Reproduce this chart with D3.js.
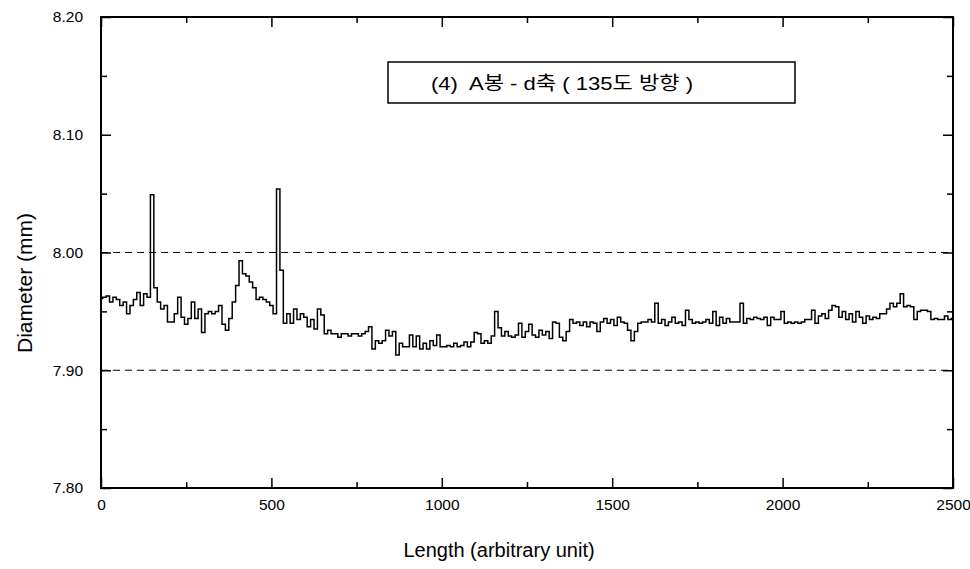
<!DOCTYPE html>
<html>
<head>
<meta charset="utf-8">
<script src="https://cdn.jsdelivr.net/npm/d3@7"></script>
<style>
body { margin: 0; background: #fff; }
text { font-family: "Liberation Sans", Arial, "Noto Sans CJK KR", sans-serif; fill: #000; }
</style>
</head>
<body>
<script>
var width = 970, height = 569

// length step between readings
var step = 10

// diameter (mm) every 10 units, 0..2500
var diameter = [
	7.961, 7.962, 7.963, 7.958, 7.962, 7.960, 7.955, 7.958, 7.948, 7.955,
	7.960, 7.966, 7.955, 7.965, 7.962, 8.049, 7.970, 7.958, 7.952, 7.955,
	7.941, 7.941, 7.948, 7.962, 7.945, 7.939, 7.944, 7.958, 7.944, 7.952,
	7.932, 7.948, 7.950, 7.948, 7.950, 7.955, 7.939, 7.934, 7.944, 7.958,
	7.972, 7.993, 7.982, 7.980, 7.975, 7.970, 7.960, 7.962, 7.960, 7.958,
	7.955, 7.948, 8.054, 7.985, 7.940, 7.948, 7.940, 7.952, 7.943, 7.948,
	7.945, 7.937, 7.943, 7.935, 7.952, 7.947, 7.931, 7.934, 7.931, 7.931,
	7.928, 7.931, 7.931, 7.929, 7.931, 7.931, 7.929, 7.931, 7.933, 7.937,
	7.918, 7.925, 7.923, 7.925, 7.934, 7.929, 7.933, 7.913, 7.923, 7.920,
	7.920, 7.930, 7.920, 7.929, 7.918, 7.923, 7.918, 7.925, 7.921, 7.930,
	7.920, 7.920, 7.921, 7.920, 7.923, 7.920, 7.921, 7.924, 7.920, 7.924,
	7.932, 7.931, 7.923, 7.925, 7.923, 7.929, 7.950, 7.936, 7.929, 7.933,
	7.929, 7.928, 7.930, 7.940, 7.928, 7.933, 7.939, 7.930, 7.928, 7.934,
	7.930, 7.933, 7.927, 7.941, 7.940, 7.928, 7.925, 7.933, 7.943, 7.940,
	7.941, 7.938, 7.941, 7.937, 7.941, 7.940, 7.933, 7.941, 7.944, 7.940,
	7.943, 7.938, 7.945, 7.941, 7.940, 7.934, 7.925, 7.933, 7.940, 7.941,
	7.941, 7.943, 7.941, 7.957, 7.940, 7.943, 7.938, 7.941, 7.945, 7.940,
	7.941, 7.938, 7.951, 7.943, 7.940, 7.941, 7.940, 7.941, 7.943, 7.940,
	7.950, 7.938, 7.945, 7.940, 7.944, 7.941, 7.941, 7.941, 7.957, 7.940,
	7.944, 7.943, 7.945, 7.944, 7.943, 7.945, 7.938, 7.945, 7.943, 7.943,
	7.950, 7.940, 7.941, 7.940, 7.941, 7.940, 7.941, 7.943, 7.943, 7.951,
	7.940, 7.946, 7.948, 7.944, 7.951, 7.955, 7.954, 7.945, 7.950, 7.943,
	7.948, 7.941, 7.950, 7.945, 7.940, 7.946, 7.943, 7.945, 7.944, 7.948,
	7.948, 7.952, 7.957, 7.954, 7.957, 7.965, 7.954, 7.955, 7.954, 7.943,
	7.950, 7.951, 7.951, 7.950, 7.943, 7.944, 7.943, 7.943, 7.946, 7.943,
	7.944
]

var xMajor = [0, 500, 1000, 1500, 2000, 2500]
var xMinor = [250, 750, 1250, 1750, 2250]
var yMajor = [7.80, 7.90, 8.00, 8.10, 8.20]
var yMinor = [7.85, 7.95, 8.05, 8.15]
var refLines = [7.90, 8.00]

var title = "(4)  A봉 - d축 ( 135도 방향 )"
var xTitle = "Length (arbitrary unit)"
var yTitle = "Diameter (mm)"

// plot box (window.top is reserved, so prefixed names)
var plotLeft = 101, plotRight = 953, plotTop = 17, plotBottom = 488

var xScale = d3.scaleLinear()
	.domain([0, 2500])
	.range([plotLeft, plotRight])

var yScale = d3.scaleLinear()
	.domain([7.80, 8.20])
	.range([plotBottom, plotTop])

var svg = d3.select("body")
.append("svg")
.attr("width", width)
.attr("height", height)

//dashed reference lines
svg.selectAll(".refLine")
	.data(refLines)
	.enter()
	.append("line")
	.attr("class", "refLine")
	.attr("x1", plotLeft)
	.attr("x2", plotRight)
	.attr("y1", function(d) { return yScale(d) })
	.attr("y2", function(d) { return yScale(d) })
	.attr("stroke", "#000")
	.attr("stroke-width", 1.2)
	.attr("stroke-dasharray", "7,5")

//stepped trace like the recorder output
var line = d3.line()
	.curve(d3.curveStep)
	.x(function(d, i) { return xScale(i * step) })
	.y(function(d) { return yScale(d) })

svg.append("path")
	.datum(diameter)
	.attr("d", line)
	.attr("fill", "none")
	.attr("stroke", "#000")
	.attr("stroke-width", 1.5)

function drawAxis(axis, tx, ty, labels) {
	var g = svg.append("g")
		.attr("transform", "translate(" + tx + "," + ty + ")")
		.call(axis)
	g.select(".domain").remove()
	g.selectAll(".tick line").attr("stroke", "#000").attr("stroke-width", 1.5)
	g.selectAll(".tick text")
		.attr("font-size", 15.5)
		.attr("font-family", "Liberation Sans, Arial, sans-serif")
		.attr("fill", "#000")
	if (!labels) g.selectAll(".tick text").remove()
	return g
}

// bottom / top
drawAxis(d3.axisBottom(xScale).tickValues(xMajor).tickSize(-10).tickPadding(11).tickFormat(d3.format("d")), 0, plotBottom, true)
drawAxis(d3.axisBottom(xScale).tickValues(xMinor).tickSize(-6), 0, plotBottom, false)
drawAxis(d3.axisTop(xScale).tickValues(xMajor).tickSize(-10), 0, plotTop, false)
drawAxis(d3.axisTop(xScale).tickValues(xMinor).tickSize(-6), 0, plotTop, false)

// left / right
drawAxis(d3.axisLeft(yScale).tickValues(yMajor).tickSize(-10).tickPadding(18).tickFormat(d3.format(".2f")), plotLeft, 0, true)
drawAxis(d3.axisLeft(yScale).tickValues(yMinor).tickSize(-6), plotLeft, 0, false)
drawAxis(d3.axisRight(yScale).tickValues(yMajor).tickSize(-10), plotRight, 0, false)
drawAxis(d3.axisRight(yScale).tickValues(yMinor).tickSize(-6), plotRight, 0, false)

//frame
svg.append("rect")
	.attr("x", plotLeft)
	.attr("y", plotTop)
	.attr("width", plotRight - plotLeft)
	.attr("height", plotBottom - plotTop)
	.attr("fill", "none")
	.attr("stroke", "#000")
	.attr("stroke-width", 2)

//title box
svg.append("rect")
	.attr("x", 388)
	.attr("y", 62)
	.attr("width", 407)
	.attr("height", 41)
	.attr("fill", "#fff")
	.attr("stroke", "#000")
	.attr("stroke-width", 1.5)

svg.append("text")
	.attr("x", 431)
	.attr("y", 90)
	.attr("font-size", 19)
	.attr("textLength", 262)
	.attr("lengthAdjust", "spacingAndGlyphs")
	.style("white-space", "pre")
	.text(title)

svg.append("text")
	.attr("x", 499)
	.attr("y", 557)
	.attr("text-anchor", "middle")
	.attr("font-size", 20)
	.text(xTitle)

svg.append("text")
	.attr("transform", "translate(32,283) rotate(-90)")
	.attr("text-anchor", "middle")
	.attr("font-size", 21)
	.text(yTitle)
</script>
</body>
</html>
